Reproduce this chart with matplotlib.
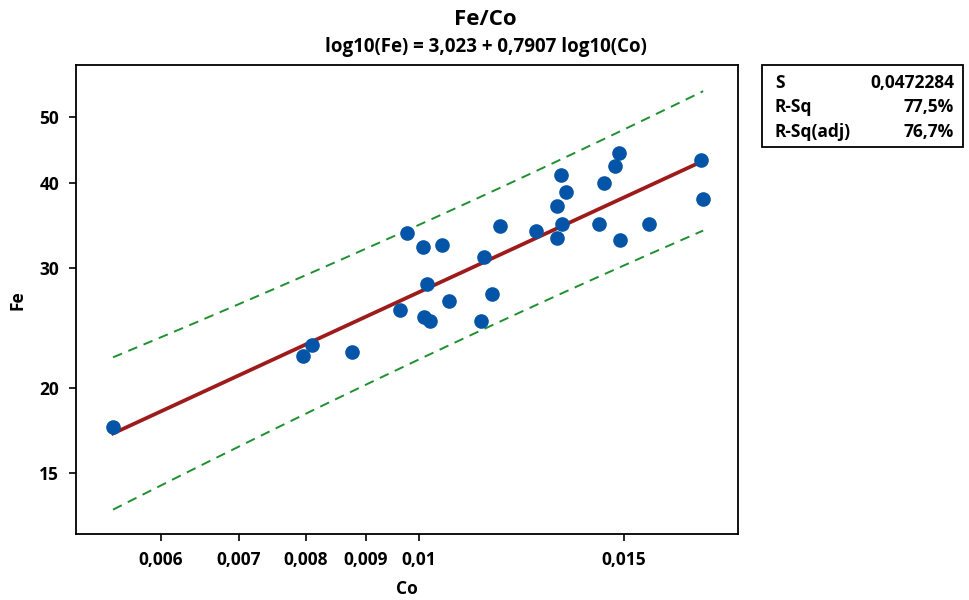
import numpy as np
import matplotlib
matplotlib.use("Agg")
import matplotlib.pyplot as plt
from matplotlib.ticker import FixedLocator, FuncFormatter, NullLocator
from matplotlib.patches import Rectangle

plt.rcParams['font.family'] = ['Open Sans', 'DejaVu Sans']

# data
co = [0.005461, 0.007952, 0.008095, 0.008760, 0.009634, 0.009768, 0.010082,
      0.010102, 0.010162, 0.010223, 0.010468, 0.010614, 0.011311, 0.011378,
      0.011560, 0.011744, 0.012606, 0.013140, 0.013140, 0.013245, 0.013271,
      0.013377, 0.014278, 0.014420, 0.014737, 0.014854, 0.014884, 0.015764,
      0.017476, 0.017545]
fe = [17.51, 22.27, 23.12, 22.58, 26.02, 33.78, 32.21, 25.41, 28.42, 25.07,
      32.43, 26.83, 25.07, 31.14, 27.47, 34.58, 34.00, 37.01, 33.20, 41.11,
      34.82, 38.81, 34.82, 40.01, 42.38, 44.29, 32.98, 34.82, 43.25, 37.90]

b0, b1 = 3.023, 0.7907
s_val = 0.0472284
stat_names = ["S", "R-Sq", "R-Sq(adj)"]
stat_vals = ["0,0472284", "77,5%", "76,7%"]
x_ticks = [0.006, 0.007, 0.008, 0.009, 0.01, 0.015]
y_ticks = [15, 20, 30, 40, 50]

blue = "#0455a7"
red = "#9e1b1b"
green = "#1f8f2f"
wt = "bold"

# fitted line + 95% prediction interval in log space
lx = np.log10(co)
n = len(lx)
t_crit = 2.048
sxx = np.sum((lx - lx.mean()) ** 2)
gx = np.linspace(lx.min(), lx.max(), 100)
fit = b0 + b1 * gx
half = t_crit * s_val * np.sqrt(1 + 1 / n + (gx - lx.mean()) ** 2 / sxx)

fig = plt.figure(figsize=(9.69, 6), dpi=100)
ax = fig.add_axes([0.0781, 0.1095, 0.6832, 0.7822])

ax.plot(10 ** gx, 10 ** fit, color=red, lw=2.7, zorder=3)
ax.plot(10 ** gx, 10 ** (fit + half), color=green, lw=1.4, ls=(0, (5, 3.5)), zorder=2)
ax.plot(10 ** gx, 10 ** (fit - half), color=green, lw=1.4, ls=(0, (5, 3.5)), zorder=2)
ax.plot(co, fe, "o", color=blue, ms=9.5, mec=blue, zorder=4)

ax.set_xscale("log")
ax.set_yscale("log")
ax.set_xlim(0.005072, 0.018785)
ax.set_ylim(12.18, 59.65)

ax.xaxis.set_major_locator(FixedLocator(x_ticks))
ax.xaxis.set_minor_locator(NullLocator())
ax.yaxis.set_major_locator(FixedLocator(y_ticks))
ax.yaxis.set_minor_locator(NullLocator())
ax.xaxis.set_major_formatter(FuncFormatter(lambda v, p: ("%g" % v).replace(".", ",")))
ax.yaxis.set_major_formatter(FuncFormatter(lambda v, p: "%g" % v))
ax.tick_params(direction="out", length=5, width=1.2, labelsize=12.5, pad=7)
for lab in ax.get_xticklabels() + ax.get_yticklabels():
    lab.set_fontweight(wt)
for sp in ax.spines.values():
    sp.set_linewidth(1.3)

ax.set_xlabel("Co", fontsize=12.5, fontweight=wt, labelpad=8)
ax.set_ylabel("Fe", fontsize=12.5, fontweight=wt, labelpad=9)

fig.text(0.501, 0.968, "Fe/Co", ha="center", va="center", fontsize=16, fontweight="bold")
fig.text(0.501, 0.922, "log10(Fe) = 3,023 + 0,7907 log10(Co)", ha="center",
         va="center", fontsize=13.5, fontweight=wt)

# stats box
W, H = 969, 600
fig.patches.append(Rectangle((762 / W, 1 - 147 / H), 201 / W, 82 / H,
                             transform=fig.transFigure, fill=False, lw=1.3,
                             ec="black"))
for i, (nm, vl) in enumerate(zip(stat_names, stat_vals)):
    yy = 1 - (83.5 + i * 24) / H
    fig.text(775 / W, yy, nm, ha="left", va="center", fontsize=12.5, fontweight=wt)
    fig.text(954 / W, yy, vl, ha="right", va="center", fontsize=12.5, fontweight=wt)

fig.savefig("out.png", dpi=100)
